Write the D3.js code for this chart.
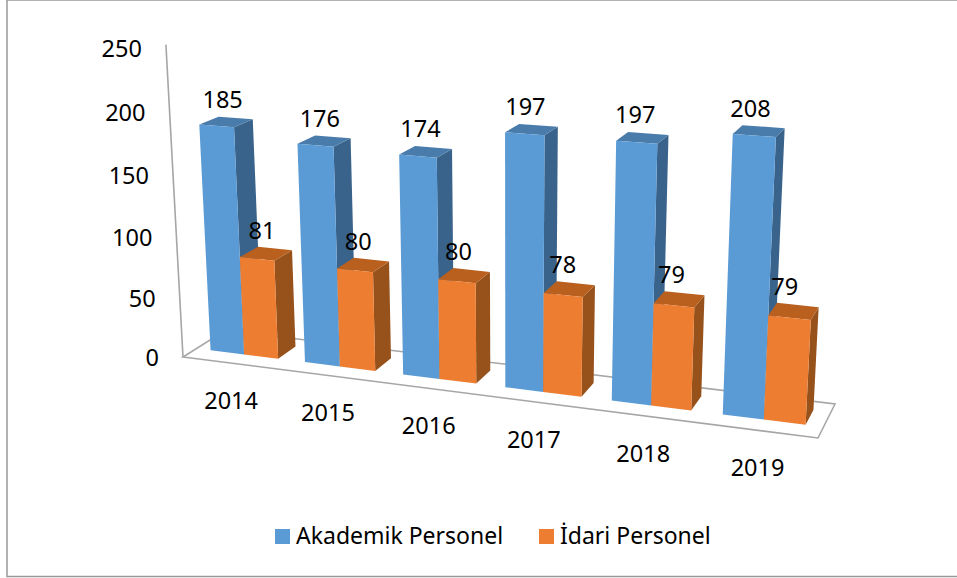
<!DOCTYPE html>
<html>
<head>
<meta charset="utf-8">
<script src="https://cdn.jsdelivr.net/npm/d3@7"></script>
<style>
  html, body { margin: 0; padding: 0; background: #fff; overflow: hidden; }
  text { font-family: "Noto Sans", sans-serif; fill: #000; }
</style>
</head>
<body>
<div class="chart"></div>
<script>
const width = 957;
const height = 578;

const years = ['2014', '2015', '2016', '2017', '2018', '2019'];
const akademik = [185, 176, 174, 197, 197, 208];
const idari = [81, 80, 80, 78, 79, 79];
const yTicks = [0, 50, 100, 150, 200, 250];
const seriesNames = ['Akademik Personel', 'İdari Personel'];

const colors = [
    { front: '#5b9bd5', top: '#4a7cab', side: '#3a638b' },
    { front: '#ed7d31', top: '#b9601f', side: '#97521c' }
];

// floor of the 3d box on screen: front left, front right, back right, back left
const floor = [[183, 357], [818, 438], [835, 404], [225.4, 330.3]];
// vanishing point of the vertical edges + how much the top of the box comes closer
const vertical = { x: 511, y: 6356, r: -0.0495 };

// unit square -> floor quad
const dx1 = floor[1][0] - floor[2][0], dx2 = floor[3][0] - floor[2][0];
const dy1 = floor[1][1] - floor[2][1], dy2 = floor[3][1] - floor[2][1];
const sx = floor[0][0] - floor[1][0] + floor[2][0] - floor[3][0];
const sy = floor[0][1] - floor[1][1] + floor[2][1] - floor[3][1];
const den = dx1 * dy2 - dx2 * dy1;
const g = (sx * dy2 - dx2 * sy) / den;
const j = (dx1 * sy - sx * dy1) / den;
const a = floor[1][0] - floor[0][0] + g * floor[1][0];
const b = floor[3][0] - floor[0][0] + j * floor[3][0];
const d = floor[1][1] - floor[0][1] + g * floor[1][1];
const e = floor[3][1] - floor[0][1] + j * floor[3][1];

const yScale = d3.scaleLinear().domain([0, 250]).range([0, 1]);
const xScale = d3.scaleBand().domain(years).range([0.002, 0.998]).paddingInner(0.28).paddingOuter(0.14);
const seriesScale = d3.scaleBand().domain([0, 1]).range([0, xScale.bandwidth()]);

// u along the years, v into the depth, val is a chart value
function project(u, v, val) {
    const t = yScale(val);
    const w = g * u + j * v + 1 + vertical.r * t;
    return [
        (a * u + b * v + floor[0][0] + vertical.x * vertical.r * t) / w,
        (d * u + e * v + floor[0][1] + vertical.y * vertical.r * t) / w
    ];
}

const depth = [0.31, 0.75];
const path = d3.line().curve(d3.curveLinearClosed);

const svg = d3.select('.chart').append('svg')
    .attr('width', width)
    .attr('height', height)
    .attr('viewBox', `0 0 ${width} ${height}`)
    .style('display', 'block');

// outer frame, the right side runs off the picture
svg.append('rect')
    .attr('x', 7).attr('y', 0)
    .attr('width', 960).attr('height', 576.5)
    .attr('fill', '#fff')
    .attr('stroke', '#999')
    .attr('stroke-width', 1.5);

/*      Floor and y axis line       */
svg.append('path')
    .attr('d', path([project(0, 0, 0), project(1, 0, 0), project(1, 1, 0), project(0, 1, 0)]))
    .attr('fill', 'none')
    .attr('stroke', '#a6a6a6')
    .attr('stroke-width', 1.6);
svg.append('line')
    .attr('x1', project(0, 0, 0)[0]).attr('y1', project(0, 0, 0)[1])
    .attr('x2', project(0, 0, 250)[0]).attr('y2', project(0, 0, 250)[1])
    .attr('stroke', '#a6a6a6')
    .attr('stroke-width', 1.6);

svg.selectAll('.y-label')
    .data(yTicks)
    .enter()
    .append('text')
    .attr('class', 'y-label')
    .attr('text-anchor', 'end')
    .attr('font-size', 23.5)
    .attr('x', (t) => project(0, 0, t)[0] - 24)
    .attr('y', (t) => project(0, 0, t)[1] + 9 + yScale(t) * 3)
    .text((t) => t);

/*      Bars, left to right so the closer ones stay on top      */
const bars = [];
years.forEach((year, i) => {
    [akademik[i], idari[i]].forEach((value, s) => {
        bars.push({
            year, value, s,
            u0: xScale(year) + seriesScale(s),
            u1: xScale(year) + seriesScale(s) + seriesScale.bandwidth()
        });
    });
});

const barGroups = svg.selectAll('.bar')
    .data(bars)
    .enter()
    .append('g')
    .attr('class', 'bar');

barGroups.append('path')
    .attr('fill', (b) => colors[b.s].side)
    .attr('d', (b) => path([
        project(b.u1, depth[0], 0), project(b.u1, depth[1], 0),
        project(b.u1, depth[1], b.value), project(b.u1, depth[0], b.value)
    ]));
barGroups.append('path')
    .attr('fill', (b) => colors[b.s].top)
    .attr('d', (b) => path([
        project(b.u0, depth[0], b.value), project(b.u1, depth[0], b.value),
        project(b.u1, depth[1], b.value), project(b.u0, depth[1], b.value)
    ]));
barGroups.append('path')
    .attr('fill', (b) => colors[b.s].front)
    .attr('d', (b) => path([
        project(b.u0, depth[0], 0), project(b.u1, depth[0], 0),
        project(b.u1, depth[0], b.value), project(b.u0, depth[0], b.value)
    ]));

/*      Data labels     */
svg.selectAll('.value-label')
    .data(bars)
    .enter()
    .append('text')
    .attr('class', 'value-label')
    .attr('text-anchor', 'middle')
    .attr('font-size', 23.5)
    .attr('x', (b) => project((b.u0 + b.u1) / 2, depth[1], b.value)[0] - 13)
    .attr('y', (b) => project((b.u0 + b.u1) / 2, depth[1], b.value)[1] - 10)
    .text((b) => b.value);

/*      Year labels     */
svg.selectAll('.x-label')
    .data(years)
    .enter()
    .append('text')
    .attr('class', 'x-label')
    .attr('text-anchor', 'middle')
    .attr('font-size', 23.5)
    .attr('x', (y) => project(xScale(y) + xScale.bandwidth() / 2, 0, 0)[0])
    .attr('y', (y) => project(xScale(y) + xScale.bandwidth() / 2, 0, 0)[1] + 46)
    .text((y) => y);

/*      Legend      */
const legendX = [275, 539];
const legend = svg.selectAll('.legend')
    .data(seriesNames)
    .enter()
    .append('g')
    .attr('class', 'legend')
    .attr('transform', (n, i) => `translate(${legendX[i]}, 529)`);
legend.append('rect')
    .attr('width', 15).attr('height', 15)
    .attr('fill', (n, i) => colors[i].front);
legend.append('text')
    .attr('x', 21)
    .attr('y', 15)
    .attr('font-size', 23)
    .text((n) => n);
</script>
</body>
</html>
